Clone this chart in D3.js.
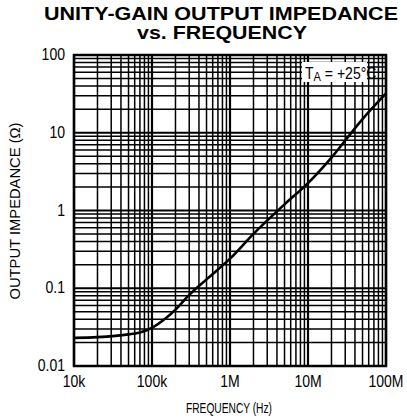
<!DOCTYPE html>
<html><head><meta charset="utf-8">
<script src="https://cdn.jsdelivr.net/npm/d3@7"></script>
<style>
body{margin:0;background:#fff;}
svg{display:block;}
text{font-family:"Liberation Sans",Arial,sans-serif;fill:#000;}
</style></head>
<body><svg id="c" width="407" height="420"></svg>
<script>
const freq = [1e4, 2e4, 5e4, 7e4, 1e5, 1.5e5, 2e5, 3e5, 5e5, 1e6, 2e6, 5e6, 1e7, 2e7, 5e7, 1e8];
const impedance = [0.023, 0.0235, 0.0255, 0.027, 0.031, 0.041, 0.053, 0.082, 0.13, 0.24, 0.5, 1.2, 2.25, 4.8, 15, 32];
const xTicks = [1e4, 1e5, 1e6, 1e7, 1e8];
const xTickLabels = ["10k", "100k", "1M", "10M", "100M"];
const yTicks = [0.01, 0.1, 1, 10, 100];
const yTickLabels = ["0.01", "0.1", "1", "10", "100"];

const svg = d3.select("#c");
const L = 74, R = 386, T = 55, B = 366;
const x = d3.scaleLog().domain([1e4, 1e8]).range([L, R]);
const y = d3.scaleLog().domain([0.01, 100]).range([B, T]);
const SX = 0.85;

// title
svg.append("text").attr("x", 221).attr("y", 19.5).attr("text-anchor", "middle")
  .style("font-weight", "bold").style("font-size", "17.5px")
  .attr("textLength", 354).attr("lengthAdjust", "spacingAndGlyphs")
  .text("UNITY-GAIN OUTPUT IMPEDANCE");
svg.append("text").attr("x", 222).attr("y", 39).attr("text-anchor", "middle")
  .style("font-weight", "bold").style("font-size", "17.5px")
  .attr("textLength", 170).attr("lengthAdjust", "spacingAndGlyphs")
  .text("vs. FREQUENCY");

// grid
const g = svg.append("g");
const minorX = [], minorY = [];
for (let d = 4; d < 8; d++) for (let k = 2; k <= 9; k++) minorX.push(k * Math.pow(10, d));
for (let d = -2; d < 2; d++) for (let k = 2; k <= 9; k++) minorY.push(k * Math.pow(10, d));
g.selectAll(".mx").data(minorX).enter().append("line")
  .attr("x1", d => x(d)).attr("x2", d => x(d)).attr("y1", T).attr("y2", B)
  .attr("stroke", "#000").attr("stroke-width", 1.5);
g.selectAll(".my").data(minorY).enter().append("line")
  .attr("y1", d => y(d)).attr("y2", d => y(d)).attr("x1", L).attr("x2", R)
  .attr("stroke", "#000").attr("stroke-width", 1.5);
g.selectAll(".Mx").data(xTicks).enter().append("line")
  .attr("x1", d => x(d)).attr("x2", d => x(d)).attr("y1", T).attr("y2", B)
  .attr("stroke", "#000").attr("stroke-width", 2.2);
g.selectAll(".My").data(yTicks).enter().append("line")
  .attr("y1", d => y(d)).attr("y2", d => y(d)).attr("x1", L).attr("x2", R)
  .attr("stroke", "#000").attr("stroke-width", 2.2);
svg.append("rect").attr("x", L).attr("y", T).attr("width", R - L).attr("height", B - T)
  .attr("fill", "none").attr("stroke", "#000").attr("stroke-width", 2.5);

// curve
const line = d3.line().x(d => x(d[0])).y(d => y(d[1])).curve(d3.curveMonotoneX);
svg.append("path").datum(freq.map((f, i) => [f, impedance[i]]))
  .attr("d", line).attr("fill", "none").attr("stroke", "#000").attr("stroke-width", 2.6);

// TA label
const lb = svg.append("g");
lb.append("rect").attr("x", 302).attr("y", 62).attr("width", 65).attr("height", 20).attr("fill", "#fff");
const tt = lb.append("text").attr("transform", `translate(305,79) scale(${SX},1)`).style("font-size", "16.5px");
tt.append("tspan").text("T");
tt.append("tspan").attr("dy", 2).style("font-size", "13px").text("A");
tt.append("tspan").attr("dy", -2).text(" = +25°C");

// tick labels
svg.selectAll(".xl").data(xTicks).enter().append("text")
  .attr("transform", d => `translate(${x(d)},387) scale(${SX},1)`).attr("text-anchor", "middle").style("font-size", "16.5px")
  .text((d, i) => xTickLabels[i]);
svg.selectAll(".yl").data(yTicks).enter().append("text")
  .attr("transform", d => `translate(65,${y(d) + 5}) scale(${SX},1)`).attr("text-anchor", "end").style("font-size", "16.5px")
  .text((d, i) => yTickLabels[i]);

// axis titles
svg.append("text").attr("x", 229).attr("y", 413).attr("text-anchor", "middle").style("font-size", "15px")
  .attr("textLength", 86).attr("lengthAdjust", "spacingAndGlyphs")
  .text("FREQUENCY (Hz)");
svg.append("text").attr("transform", "translate(20,211) rotate(-90)").attr("text-anchor", "middle").style("font-size", "15px")
  .attr("textLength", 177).attr("lengthAdjust", "spacingAndGlyphs")
  .text("OUTPUT IMPEDANCE (Ω)");
</script></body></html>
